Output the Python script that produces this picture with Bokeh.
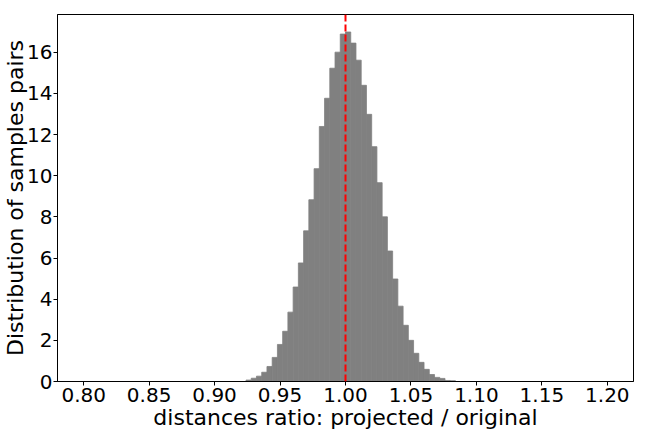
import numpy as np
from bokeh.plotting import figure
from bokeh.models import Span, FixedTicker, NumeralTickFormatter, Range1d
from bokeh.embed import file_html
from bokeh.resources import INLINE

# Histogram: 100 bins from 0.80 to 1.20 (bin width 0.004), density values
bin_start = 0.80
bin_end = 1.20
n_bins = 100
density = [0.0] * 31 + [
    0.07, 0.16, 0.26, 0.45, 0.73, 1.17, 1.80, 2.44, 3.37, 4.59,   # bins 31-40
    5.76, 7.32, 8.83, 10.34, 12.39, 13.76, 15.22, 16.00, 16.88, 16.98,  # bins 41-50
    16.44, 15.61, 14.39, 12.98, 11.41, 9.66, 8.00, 6.34, 4.98, 3.66,   # bins 51-60
    2.73, 2.00, 1.37, 0.93, 0.59, 0.34, 0.20, 0.15, 0.05, 0.04,       # bins 61-70
] + [0.0] * 29

x_ticks = [0.80, 0.85, 0.90, 0.95, 1.00, 1.05, 1.10, 1.15, 1.20]
y_ticks = [0, 2, 4, 6, 8, 10, 12, 14, 16]
ref_line = 1.0

edges = np.linspace(bin_start, bin_end, n_bins + 1)
left = edges[:-1]
right = edges[1:]

p = figure(width=648, height=432, output_backend="svg", toolbar_location=None,
           x_range=Range1d(0.78, 1.22), y_range=Range1d(0, 17.83),
           min_border_left=0, min_border_right=15, min_border_top=14, min_border_bottom=0)

p.quad(left=left, right=right, top=density, bottom=0, fill_color="gray",
       line_color="gray", line_width=0.8)

p.add_layout(Span(location=ref_line, dimension="height", line_color="red",
                  line_width=2, line_dash="7 3"))

p.xgrid.visible = False
p.ygrid.visible = False
p.outline_line_color = "black"
p.outline_line_alpha = 1.0
p.outline_line_width = 1

for ax in (p.xaxis[0], p.yaxis[0]):
    ax.major_label_text_font = "DejaVu Sans"
    ax.major_label_text_font_size = "20px"
    ax.major_label_text_color = "black"
    ax.major_label_text_line_height = 1.0
    ax.axis_label_text_font = "DejaVu Sans"
    ax.axis_label_text_font_size = "22px"
    ax.axis_label_text_font_style = "normal"
    ax.axis_label_text_color = "black"
    ax.axis_label_text_line_height = 1.0
    ax.minor_tick_line_color = None
    ax.major_tick_out = 4
    ax.major_tick_in = 0
    ax.major_tick_line_color = "black"
    ax.axis_line_color = "black"

p.yaxis.major_label_standoff = 1
p.yaxis.axis_label_standoff = -4
p.xaxis.major_label_standoff = 2
p.xaxis.axis_label_standoff = 0

p.xaxis.ticker = FixedTicker(ticks=x_ticks)
p.xaxis.formatter = NumeralTickFormatter(format="0.00")
p.yaxis.ticker = FixedTicker(ticks=y_ticks)
p.xaxis.axis_label = "distances ratio: projected / original"
p.yaxis.axis_label = "Distribution of samples pairs"

open("out.html", "w").write(file_html(p, INLINE))
